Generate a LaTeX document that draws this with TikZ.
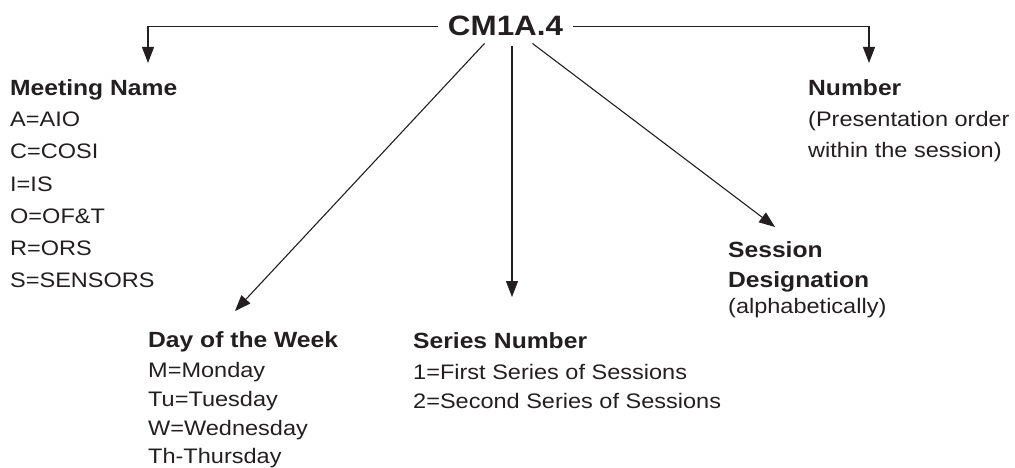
\documentclass[tikz,border=0pt]{standalone}
\usepackage{fontspec}
\setmainfont{Liberation Sans}[FakeStretch=1.12]
\usetikzlibrary{arrows.meta}
\definecolor{ink}{HTML}{231F20}
\begin{document}
\begin{tikzpicture}[x=1pt,y=-1pt,
  head/.style={font=\fontsize{22}{26}\selectfont\bfseries, anchor=base west, inner sep=0pt, text=ink},
  body/.style={font=\fontsize{21}{25}\selectfont, anchor=base west, inner sep=0pt, text=ink},
  conn/.style={draw=ink, line width=1.1pt, -{Triangle[length=16pt,width=12pt]}}]
\useasboundingbox (0,0) rectangle (1015,468);

\node[anchor=base, font=\fontsize{28}{32}\selectfont\bfseries, text=ink, inner xsep=10pt, inner ysep=7pt] (title) at (505.5,36) {CM1A.4};

% Meeting Name
\node[head] (meet) at (10,96) {Meeting Name};
\node[body] (m1) at (10,127) {A=AIO};
\node[body] (m2) at (10,159) {C=COSI};
\node[body] (m3) at (10,191) {I=IS};
\node[body] (m4) at (10,223) {O=OF\&T};
\node[body] (m5) at (10,255) {R=ORS};
\node[body] (m6) at (10,287) {S=SENSORS};

% Day of the Week
\node[head] (day) at (148,347) {Day of the Week};
\node[body] (d1) at (148,377) {M=Monday};
\node[body] (d2) at (148,406) {Tu=Tuesday};
\node[body] (d3) at (148,435) {W=Wednesday};
\node[body] (d4) at (148,463) {Th-Thursday};

% Series Number
\node[head] (ser) at (413,348) {Series Number};
\node[body] (s1) at (413,379) {1=First Series of Sessions};
\node[body] (s2) at (413,408) {2=Second Series of Sessions};

% Session Designation
\node[head] (ses1) at (728,257) {Session};
\node[head] (ses2) at (728,287) {Designation};
\node[body] (ses3) at (728,313) {(alphabetically)};

% Number
\node[head] (num) at (808,96) {Number};
\node[body] (n1) at (808,127) {(Presentation order};
\node[body] (n2) at (808,158) {within the session)};

% arrow tips
\coordinate (mtip) at (148,63);
\coordinate (ntip) at (869,63);
\coordinate (dtip) at (235,311);
\coordinate (stip) at (512,297);
\coordinate (gtip) at (775,227);

\draw[conn] (title.west) -| (mtip);
\draw[conn] (title.east) -| (ntip);
\draw[conn] ([xshift=-21pt]title.south) -- (dtip);
\draw[conn] ([xshift=6.5pt,yshift=-3pt]title.south) -- (stip);
\draw[conn] ([xshift=27pt]title.south) -- (gtip);
\end{tikzpicture}
\end{document}
